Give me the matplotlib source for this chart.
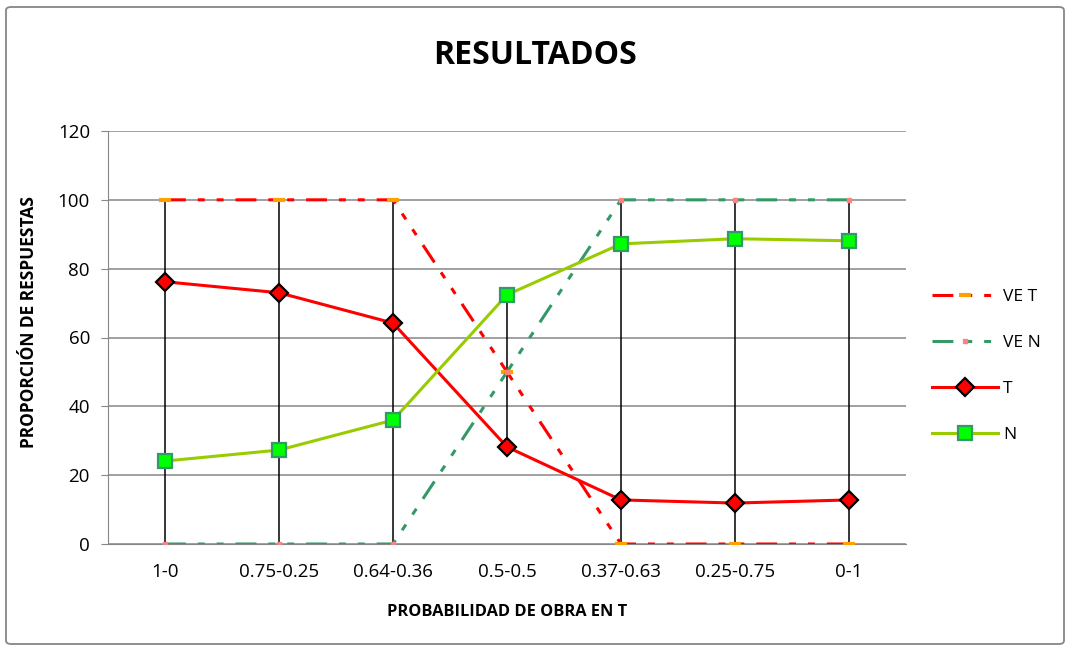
import matplotlib.pyplot as plt
import matplotlib.patches as patches
import numpy as np

# data
categorias = ['1-0', '0.75-0.25', '0.64-0.36', '0.5-0.5', '0.37-0.63', '0.25-0.75', '0-1']
ve_t = [100, 100, 100, 50, 0, 0, 0]
ve_n = [0, 0, 0, 50, 100, 100, 100]
t_vals = [76.2, 73.0, 64.2, 28.2, 12.8, 11.9, 12.8]
n_vals = [24.1, 27.3, 36.0, 72.4, 87.2, 88.7, 88.1]

plt.rcParams['font.family'] = ['Open Sans', 'DejaVu Sans']
plt.rcParams['lines.scale_dashes'] = False

fig = plt.figure(figsize=(10.72, 6.51), dpi=100)
ax = fig.add_axes([108/1072, 107/651, 798/1072, 413/651])

x = np.arange(len(categorias))
allv = np.array([ve_t, ve_n, t_vals, n_vals])
##hi-lo lines like excel
ax.vlines(x, allv.min(axis=0), allv.max(axis=0), color='black', lw=1.1, zorder=2)

dash = (0, (15, 8.6, 5, 8.6, 5, 8.6))
ax.plot(x, ve_t, color='#ff0000', lw=2.2, linestyle=dash, marker='_', ms=9, mew=3,
        mec='#ffa000', label='VE T', zorder=3)
ax.plot(x, ve_n, color='#339966', lw=2.2, linestyle=dash, marker='s', ms=3,
        mfc='#ff8080', mec='#ff8080', label='VE N', zorder=3)
ax.plot(x, t_vals, color='#ff0000', lw=2.2, marker='D', ms=9, mfc='#ff0000',
        mec='black', mew=1.6, label='T', zorder=4)
ax.plot(x, n_vals, color='#99cc00', lw=2.2, marker='s', ms=10, mfc='#00ff00',
        mec='#339966', mew=1.6, label='N', zorder=4)

ax.set_xlim(-0.5, len(categorias) - 0.5)
ax.set_ylim(0, 120)
ax.set_yticks(range(0, 121, 20))
ax.set_xticks(x)
ax.set_xticklabels(categorias)
ax.tick_params(axis='y', length=5, color='#868686', labelsize=13.5, pad=8)
ax.tick_params(axis='x', length=0, labelsize=13.5, pad=14)
ax.grid(axis='y', color='#868686', lw=1.1)
ax.set_axisbelow(True)
for s in ['top', 'right']:
    ax.spines[s].set_visible(False)
ax.spines['left'].set_color('#868686')
ax.spines['bottom'].set_color('#868686')

ax.set_xlabel('PROBABILIDAD DE OBRA EN T', fontsize=11.8, fontweight='bold', labelpad=16)
ax.set_ylabel('PROPORCIÓN DE RESPUESTAS', fontsize=12.5, fontweight='bold')
ax.yaxis.set_label_coords(-0.088, 0.537)
fig.text(535/1072, 1 - 55/651, 'RESULTADOS', fontsize=23, fontweight='bold',
         ha='center', va='center')

ax.legend(loc='upper left', bbox_to_anchor=(916/1072, 1 - 273/651),
          bbox_transform=fig.transFigure, frameon=False, fontsize=12.5,
          handlelength=3.8, labelspacing=1.72, handletextpad=0.3)

fig.patches.append(patches.FancyBboxPatch((6/1072, 7/651), 1058/1072, 637/651,
                   boxstyle='round,pad=0,rounding_size=0.005', transform=fig.transFigure,
                   fill=False, ec='#868686', lw=1.3))

fig.savefig('out.png', dpi=100)
